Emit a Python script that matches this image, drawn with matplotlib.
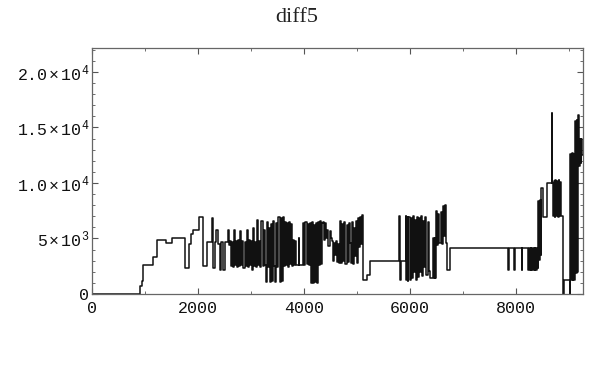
import numpy as np
import matplotlib
matplotlib.use('Agg')
import matplotlib.pyplot as plt
from matplotlib.ticker import MultipleLocator

plt.rcParams['mathtext.fontset'] = 'custom'
plt.rcParams['mathtext.rm'] = 'Liberation Mono'
plt.rcParams['mathtext.it'] = 'Liberation Mono'

title = 'diff5'

# step series: change points (x) and the level after each one (y)
ramp_x = [0, 905, 935, 970, 1160, 1220, 1396, 1503, 1755, 1830, 1868, 1912, 2025, 2088, 2177,
          2271, 2290, 2315, 2340, 2371, 2415, 2440, 2478, 2516, 2573, 2590]
ramp_y = [0, 700, 1200, 2600, 3300, 4900, 4600, 5000, 2300, 4500, 5400, 5800, 6900, 2500, 4700,
          6800, 2300, 4700, 5800, 4500, 2200, 4700, 2200, 4700, 5800, 4400]

dense1_x = [2600, 2620, 2640, 2660, 2680, 2700, 2720, 2740, 2760, 2780, 2800, 2820, 2840, 2860, 2880,
            2900, 2920, 2940, 2960, 2980, 3000, 3020, 3040, 3060, 3080, 3100, 3120, 3140, 3160]
dense1_y = [4800, 2500, 4700, 2400, 5800, 2600, 4800, 2400, 4900, 2500, 5700, 2600, 4800, 2300, 4700,
            2500, 5800, 2400, 4900, 2600, 4800, 2200, 5900, 2500, 4700, 2400, 6700, 2600, 4800]

dense2_x = [3180, 3200, 3220, 3240, 3260, 3280, 3300, 3320, 3340, 3360, 3380, 3400, 3420, 3440, 3460,
            3480, 3500, 3520, 3540, 3560, 3580, 3600, 3620, 3640, 3660, 3680, 3700, 3720, 3740, 3760,
            3780, 3800, 3820, 3840, 3860, 3900, 3910]
dense2_y = [2400, 6600, 2500, 5800, 2600, 1100, 6500, 2400, 5900, 1100, 6300, 1200, 6600, 2500, 1100,
            6400, 2400, 6900, 1100, 6800, 1200, 6900, 2500, 6500, 2600, 6400, 2400, 6500, 2700, 6300,
            2500, 4900, 2600, 4800, 2600, 5000, 2600]

dense3_x = [3990, 4010, 4030, 4050, 4070, 4090, 4110, 4130, 4150, 4170, 4190, 4210, 4230, 4250, 4270,
            4290, 4310, 4330, 4350]
dense3_y = [6400, 2600, 6500, 2700, 6300, 2600, 6400, 1000, 6500, 1000, 6200, 1100, 6400, 1000, 6500,
            2600, 6600, 2700, 6400]

dense4_x = [4365, 4385, 4405, 4425, 4445, 4465, 4485, 4505, 4525, 4545, 4565, 4585, 4605, 4625, 4645,
            4665, 4685, 4705, 4725, 4745, 4765, 4785, 4805, 4825, 4845, 4865, 4885, 4905, 4925, 4945,
            4965, 4985, 5005, 5025, 5045, 5065, 5085, 5105]
dense4_y = [6500, 4900, 6400, 5000, 5800, 4300, 5700, 5000, 4800, 3000, 4600, 3500, 4800, 2900, 4500,
            2800, 6600, 2800, 6300, 3000, 6500, 2700, 6200, 2900, 6400, 4600, 2800, 6500, 2700, 5900,
            3400, 6600, 2800, 6800, 4200, 6900, 4500, 7100]

mid_x = [5120, 5183, 5246, 5787, 5800, 5812, 5825, 5925, 5935, 5950, 5962]
mid_y = [1300, 1700, 3000, 4800, 7000, 1300, 3000, 7000, 1300, 6900, 1200]

dense5_x = [5975, 5995, 6015, 6035, 6055, 6075, 6095, 6115, 6135, 6155, 6175, 6195, 6215, 6235, 6255,
            6275, 6295, 6315, 6335, 6355, 6375, 6440, 6452, 6470, 6482]
dense5_y = [6900, 1300, 6800, 1400, 7000, 2000, 6700, 1300, 6900, 1500, 6800, 2000, 7000, 1600, 6600,
            2400, 6900, 1700, 6500, 2100, 1400, 5000, 1400, 5000, 1400]

dense6_x = [6503, 6520, 6540, 6560, 6580, 6600, 6620, 6640, 6660, 6680, 6704, 6755,
            7850, 7865, 7975, 7990, 8110, 8125]
dense6_y = [7500, 4400, 7200, 4600, 7400, 4500, 7900, 5200, 8000, 4600, 2160, 4150,
            2160, 4150, 2160, 4150, 2160, 4150]

dense7_x = [8234, 8250, 8265, 8280, 8295, 8310, 8325, 8340, 8355, 8370, 8385, 8400, 8415,
            8425, 8440, 8455, 8470, 8485, 8517, 8592, 8686, 8694]
dense7_y = [2200, 4100, 2200, 4150, 2200, 4100, 2200, 4150, 2200, 4100, 2200, 4150, 2300,
            8400, 3100, 8500, 3500, 9500, 6960, 9960, 16260, 9960]

dense8_x = [8705, 8720, 8735, 8750, 8765, 8780, 8795, 8810, 8825, 8840, 8855, 8894, 8902, 9020, 9028]
dense8_y = [7000, 10200, 6960, 10300, 7000, 10200, 6960, 10300, 7000, 10100, 7000, 0, 1300, 0, 12600]

dense9_x = [9045, 9060, 9075, 9090, 9105, 9120, 9135, 9150, 9165, 9180, 9195, 9210, 9225, 9240, 9255]
dense9_y = [1300, 12700, 1300, 12600, 1300, 15600, 1900, 15700, 2000, 16100, 11500, 14000, 11800, 14000, 12500]

xticks = [0, 2000, 4000, 6000, 8000]
xtick_labels = ['0', '2000', '4000', '6000', '8000']
yticks = [0, 5000, 10000, 15000, 20000]
ytick_labels = ['0', r'$5\times10^3$', r'$1.0\times10^4$', r'$1.5\times10^4$', r'$2.0\times10^4$']

xs = (ramp_x + dense1_x + dense2_x + dense3_x + dense4_x + mid_x + dense5_x
      + dense6_x + dense7_x + dense8_x + dense9_x)
ys = (ramp_y + dense1_y + dense2_y + dense3_y + dense4_y + mid_y + dense5_y
      + dense6_y + dense7_y + dense8_y + dense9_y)
xs = np.array(xs + [9270])
ys = np.array(ys + [ys[-1]])

fig = plt.figure(figsize=(5.94, 3.66), dpi=100)
ax = fig.add_axes([92 / 594, 1 - 294 / 366, 491 / 594, 246 / 366])
ax.step(xs, ys, where='post', color='#111111', lw=1.1)

ax.set_xlim(0, 9270)
ax.set_ylim(0, 22150)
ax.set_xticks(xticks)
ax.set_xticklabels(xtick_labels)
ax.set_yticks(yticks)
ax.set_yticklabels(ytick_labels)
ax.xaxis.set_minor_locator(MultipleLocator(1000))
ax.yaxis.set_minor_locator(MultipleLocator(1000))
ax.tick_params(which='both', direction='in', top=True, right=True, color='#555555')
ax.tick_params(which='major', length=4.5, width=0.8)
ax.tick_params(which='minor', length=2.5, width=0.6)
ax.tick_params(axis='x', pad=5)
ax.tick_params(axis='y', pad=2)
for lab in ax.get_xticklabels() + ax.get_yticklabels():
    lab.set_family('Liberation Mono')
    lab.set_fontsize(12)
    lab.set_color('#111111')
for sp in ax.spines.values():
    sp.set_color('#666666')
    sp.set_linewidth(0.9)

fig.text(0.5, 1 - 18 / 366, title, ha='center', va='center',
         family='Liberation Serif', fontsize=16, color='#222222')

fig.savefig('out.png', dpi=100)
